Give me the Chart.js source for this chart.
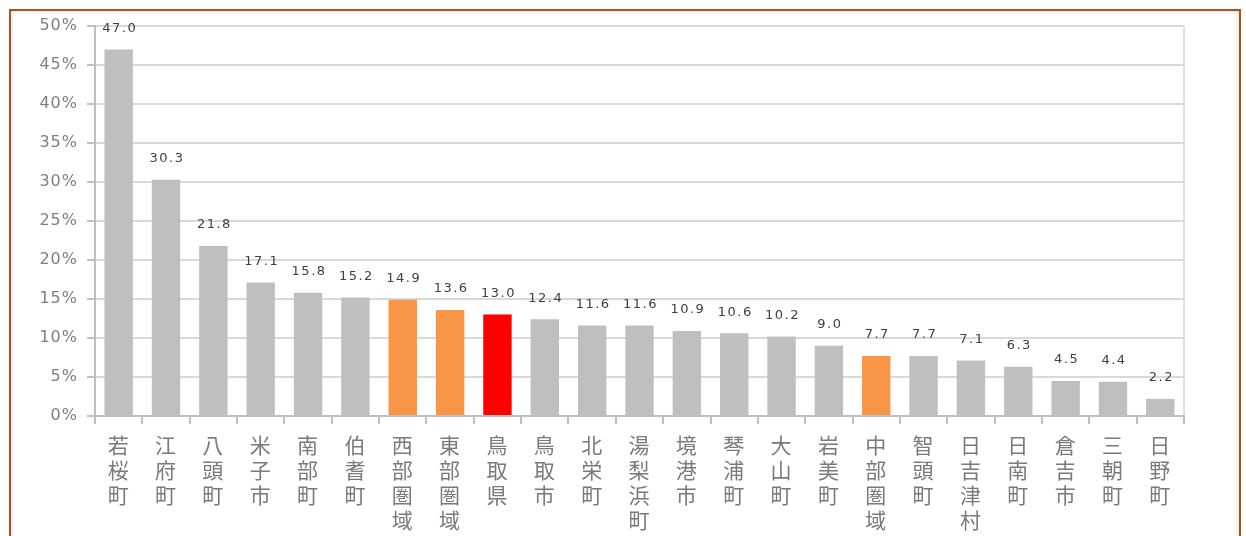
<!DOCTYPE html>
<html>
<head>
<meta charset="utf-8">
<script src="https://cdn.jsdelivr.net/npm/chart.js@4"></script>
<style>
  html, body { margin: 0; padding: 0; background: #fff; overflow: hidden; }
  #frame {
    position: absolute; left: 9px; top: 9px; width: 1228px; height: 600px;
    border: 2.5px solid #A4561C; box-shadow: inset 0 0 4px #d0d0d0;
  }
  #wrap { position: absolute; left: 0; top: 0; width: 1246px; height: 536px; }
</style>
</head>
<body>
<div id="frame"></div>
<div id="wrap"><canvas id="chart" width="1246" height="536"></canvas></div>
<script>
// municipality names (drawn vertically, one character per line)
var areas = ['若桜町', '江府町', '八頭町', '米子市', '南部町', '伯耆町', '西部圏域', '東部圏域', '鳥取県',
  '鳥取市', '北栄町', '湯梨浜町', '境港市', '琴浦町', '大山町', '岩美町', '中部圏域', '智頭町',
  '日吉津村', '日南町', '倉吉市', '三朝町', '日野町'];
var rates = [47.0, 30.3, 21.8, 17.1, 15.8, 15.2, 14.9, 13.6, 13.0, 12.4, 11.6, 11.6, 10.9, 10.6, 10.2,
  9.0, 7.7, 7.7, 7.1, 6.3, 4.5, 4.4, 2.2];
var yTicks = [0, 5, 10, 15, 20, 25, 30, 35, 40, 45, 50];

function barColor(name) {
  if (name === '鳥取県') return '#FF0000';
  if (name.indexOf('圏域') >= 0) return '#F79646';
  return '#BFBFBF';
}

var valueLabels = {
  id: 'valueLabels',
  afterDatasetsDraw: function (chart) {
    var ctx = chart.ctx;
    var meta = chart.getDatasetMeta(0);
    ctx.save();
    ctx.font = '13px "DejaVu Sans", Verdana, sans-serif';
    ctx.letterSpacing = '1.5px';
    ctx.fillStyle = '#404040';
    ctx.textAlign = 'center';
    ctx.textBaseline = 'middle';
    meta.data.forEach(function (bar, i) {
      ctx.fillText(rates[i].toFixed(1), bar.x + 1, bar.y - 21);
    });
    ctx.restore();
  }
};

var plotEdge = {
  id: 'plotEdge',
  beforeDraw: function (chart) {
    var a = chart.chartArea;
    var ctx = chart.ctx;
    ctx.save();
    ctx.strokeStyle = '#E0E0E0';
    ctx.lineWidth = 2;
    ctx.beginPath();
    ctx.moveTo(a.right, a.top);
    ctx.lineTo(a.right, a.bottom);
    ctx.stroke();
    ctx.restore();
    ctx.letterSpacing = '1px';
  }
};

new Chart(document.getElementById('chart'), {
  type: 'bar',
  data: {
    labels: areas.map(function (n) { return n.split(''); }),
    datasets: [{
      data: rates,
      backgroundColor: areas.map(barColor),
      barPercentage: 0.6,
      categoryPercentage: 1.0
    }]
  },
  options: {
    responsive: false,
    animation: false,
    layout: { padding: { left: 10, top: 26, right: 62, bottom: 0 } },
    plugins: { legend: { display: false }, tooltip: { enabled: false } },
    scales: {
      x: {
        grid: { drawOnChartArea: false, drawTicks: true, tickLength: 8, color: '#BFBFBF', lineWidth: 2, offset: true },
        border: { color: '#BFBFBF', width: 2 },
        ticks: {
          autoSkip: false, maxRotation: 0, minRotation: 0, padding: 9,
          color: '#7a7a7a',
          font: { family: '"Noto Sans CJK JP", sans-serif', size: 21, lineHeight: '25px' }
        },
        afterFit: function (s) { s.height = 120; }
      },
      y: {
        min: 0, max: 50,
        afterBuildTicks: function (s) { s.ticks = yTicks.map(function (v) { return { value: v }; }); },
        grid: { color: '#D9D9D9', lineWidth: 2, tickLength: 8, tickColor: '#BFBFBF' },
        border: { color: '#BFBFBF', width: 2 },
        ticks: {
          padding: 9, color: '#7f7f7f',
          font: { family: '"DejaVu Sans", Verdana, sans-serif', size: 16 },
          callback: function (v) { return v + '%'; }
        },
        afterFit: function (s) { s.width = 85; }
      }
    }
  },
  plugins: [plotEdge, valueLabels]
});
</script>
</body>
</html>
